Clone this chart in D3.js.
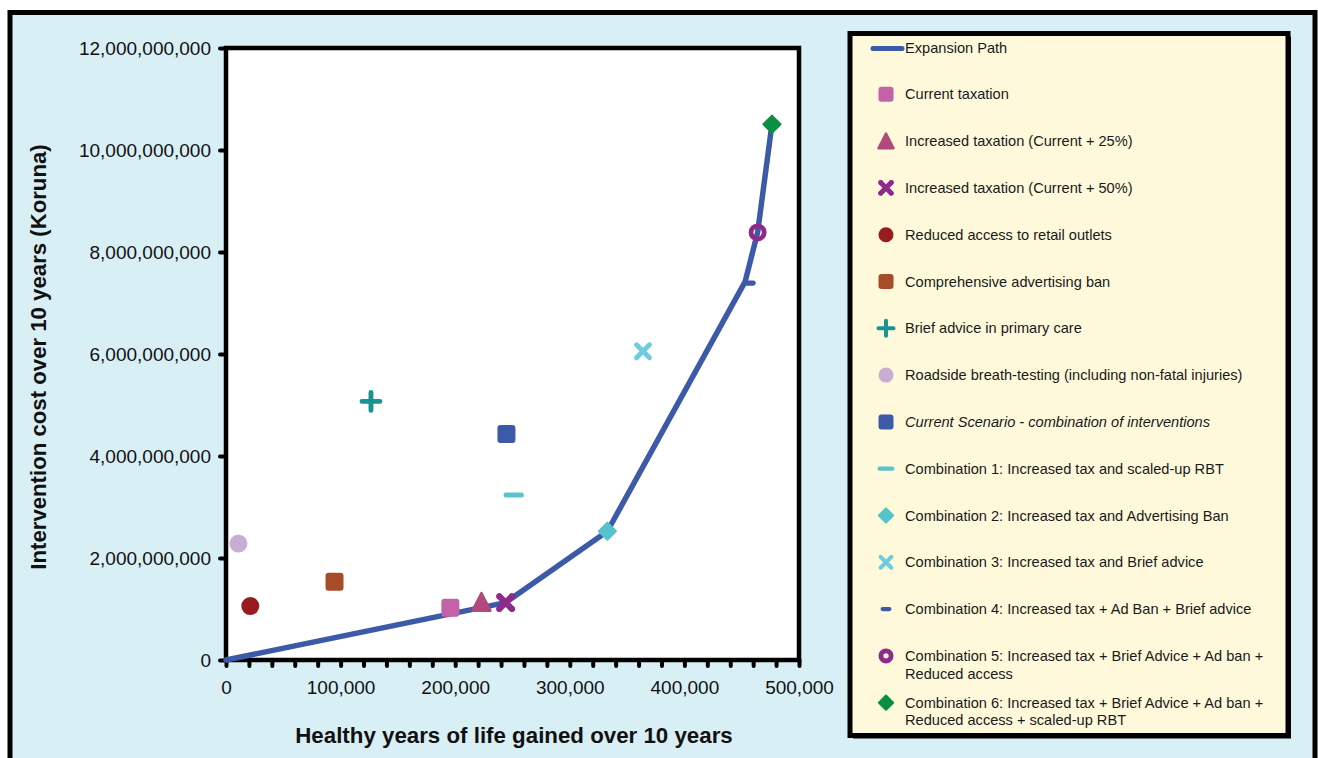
<!DOCTYPE html>
<html><head><meta charset="utf-8">
<script src="https://cdn.jsdelivr.net/npm/d3@7"></script>
<style>
body{margin:0;background:#fff;}
svg{display:block;font-family:"Liberation Sans",Arial,Helvetica,sans-serif;}
</style>
</head><body>
<svg id="chart" width="1318" height="758"></svg>
<script>
// ---------------- DATA ----------------
const seriesNames = [
  "Current taxation",
  "Increased taxation (Current + 25%)",
  "Increased taxation (Current + 50%)",
  "Reduced access to retail outlets",
  "Comprehensive advertising ban",
  "Brief advice in primary care",
  "Roadside breath-testing (including non-fatal injuries)",
  "Current Scenario - combination of interventions",
  "Combination 1: Increased tax and scaled-up RBT",
  "Combination 2: Increased tax and Advertising Ban",
  "Combination 3: Increased tax and Brief advice",
  "Combination 4: Increased tax + Ad Ban + Brief advice",
  "Combination 5: Increased tax + Brief Advice + Ad ban + Reduced access",
  "Combination 6: Increased tax + Brief Advice + Ad ban + Reduced access + scaled-up RBT"
];
const healthyYears = [195800, 222900, 244000, 21200, 94700, 126500, 10800, 244700, 251100, 332800, 363900, 456500, 463900, 476400];
const costs = [1.024e9, 1.135e9, 1.125e9, 1.057e9, 1.533e9, 5.07e9, 2.284e9, 4.43e9, 3.236e9, 2.525e9, 6.055e9, 7.39e9, 8.384e9, 10.506e9];
const seriesColors = ["#c462a8", "#b04a7c", "#8e2a8c", "#981b1f", "#a84b28", "#1a9393", "#c8aed4", "#3d5aa9", "#5bc3cb", "#56c3cb", "#6ccde0", "#3d5aa9", "#8e2a8c", "#0a9040"];
const seriesShapes = ["square", "triangle", "xbold", "circle", "square", "plus", "circle", "square", "dash", "diamond", "x", "smalldash", "ring", "diamond"];

const expansionName = "Expansion Path";
const expansionX = [0, 244000, 332800, 453000, 463900, 476400];
const expansionY = [0, 1.125e9, 2.525e9, 7.42e9, 8.384e9, 10.506e9];
const expansionColor = "#3d5aa9";

const xTickValues = [0, 100000, 200000, 300000, 400000, 500000];
const yTickValues = [0, 2e9, 4e9, 6e9, 8e9, 10e9, 12e9];
const xTitle = "Healthy years of life gained over 10 years";
const yTitle = "Intervention cost over 10 years (Koruna)";

// ---------------- LAYOUT ----------------
const svg = d3.select("#chart");
const plot = {left: 226, right: 799, top: 48, bottom: 660};

// outer frame
svg.append("rect").attr("x", 10).attr("y", 12.5).attr("width", 1305).attr("height", 800)
  .attr("fill", "#d9eff6").attr("stroke", "#000").attr("stroke-width", 5);

const x = d3.scaleLinear().domain([0, 500000]).range([plot.left, plot.right]);
const y = d3.scaleLinear().domain([0, 12e9]).range([plot.bottom, plot.top]);

// plot area
svg.append("rect").attr("x", plot.left).attr("y", plot.top)
  .attr("width", plot.right - plot.left).attr("height", plot.bottom - plot.top)
  .attr("fill", "#fff");

const fmt = d3.format(",");

// x axis (minor ticks every 20,000)
const xAxis = d3.axisBottom(x)
  .tickValues(d3.range(0, 500001, 20000))
  .tickSize(6).tickPadding(14.5)
  .tickFormat(d => xTickValues.includes(d) ? fmt(d) : "");
const gx = svg.append("g").attr("transform", `translate(0,${plot.bottom})`).call(xAxis);
gx.select(".domain").remove();
gx.selectAll(".tick line").attr("stroke", "#000").attr("stroke-width", 4).attr("stroke-linecap", "round");
gx.selectAll(".tick text").attr("font-size", 19).attr("fill", "#111");

// y axis
const yAxis = d3.axisLeft(y).tickValues(yTickValues).tickSize(6).tickPadding(9).tickFormat(d => fmt(d));
const gy = svg.append("g").attr("transform", `translate(${plot.left},0)`).call(yAxis);
gy.select(".domain").remove();
gy.selectAll(".tick line").attr("stroke", "#000").attr("stroke-width", 4).attr("stroke-linecap", "round");
gy.selectAll(".tick text").attr("font-size", 19).attr("fill", "#111");

// plot frame
svg.append("rect").attr("x", plot.left).attr("y", plot.top)
  .attr("width", plot.right - plot.left).attr("height", plot.bottom - plot.top)
  .attr("fill", "none").attr("stroke", "#000").attr("stroke-width", 4.5);

// titles
svg.append("text").attr("x", 514).attr("y", 743).attr("text-anchor", "middle")
  .attr("font-size", 22.3).attr("font-weight", "bold").attr("fill", "#111").text(xTitle);
svg.append("text").attr("transform", "translate(46,357) rotate(-90)").attr("text-anchor", "middle")
  .attr("font-size", 22.2).attr("font-weight", "bold").attr("fill", "#111").text(yTitle);

// expansion path
const line = d3.line().x(d => x(d[0])).y(d => y(d[1]));
svg.append("path").datum(d3.zip(expansionX, expansionY)).attr("d", line)
  .attr("fill", "none").attr("stroke", expansionColor).attr("stroke-width", 5.5)
  .attr("stroke-linejoin", "round").attr("stroke-linecap", "round");

// marker drawing
function drawMarker(g, shape, color, s) {
  const h = s / 2;
  if (shape === "square") {
    g.append("rect").attr("x", -h + 1).attr("y", -h + 1).attr("width", s - 2).attr("height", s - 2)
      .attr("rx", 2).attr("fill", color).attr("stroke", color).attr("stroke-width", 2).attr("stroke-linejoin", "round");
  } else if (shape === "triangle") {
    g.append("path").attr("d", `M0,${-h}L${h},${h * 0.95}L${-h},${h * 0.95}Z`)
      .attr("fill", color).attr("stroke", color).attr("stroke-width", 2.5).attr("stroke-linejoin", "round");
  } else if (shape === "circle") {
    g.append("circle").attr("r", h).attr("fill", color);
  } else if (shape === "ring") {
    g.append("circle").attr("r", h - 2.4).attr("fill", "none").attr("stroke", color).attr("stroke-width", 4.8);
  } else if (shape === "diamond") {
    const d = h * 0.95;
    g.append("path").attr("d", `M0,${-d}L${d},0L0,${d}L${-d},0Z`)
      .attr("fill", color).attr("stroke", color).attr("stroke-width", 2).attr("stroke-linejoin", "round");
  } else if (shape === "plus") {
    const a = h;
    g.append("path").attr("d", `M${-a},0L${a},0M0,${-a}L0,${a}`)
      .attr("stroke", color).attr("stroke-width", s * 0.27).attr("stroke-linecap", "round");
  } else if (shape === "x") {
    const a = h * 0.72;
    g.append("path").attr("d", `M${-a},${-a}L${a},${a}M${a},${-a}L${-a},${a}`)
      .attr("stroke", color).attr("stroke-width", s * 0.27).attr("stroke-linecap", "round");
  } else if (shape === "xbold") {
    const a = h * 0.68;
    g.append("path").attr("d", `M${-a},${-a}L${a},${a}M${a},${-a}L${-a},${a}`)
      .attr("stroke", color).attr("stroke-width", s * 0.34).attr("stroke-linecap", "round");
    const e = h * 0.72, w = s * 0.14;
    [[-1, -1], [1, -1], [-1, 1], [1, 1]].forEach(([sx, sy]) => {
      g.append("circle").attr("cx", sx * e).attr("cy", sy * e).attr("r", w * 1.15).attr("fill", color);
    });
  } else if (shape === "dash") {
    g.append("path").attr("d", `M${-h * 0.85},0L${h * 0.85},0`)
      .attr("stroke", color).attr("stroke-width", s * 0.28).attr("stroke-linecap", "round");
  } else if (shape === "smalldash") {
    g.append("path").attr("d", `M${-h * 0.45},0L${h * 0.45},0`)
      .attr("stroke", color).attr("stroke-width", s * 0.28).attr("stroke-linecap", "round");
  }
}

// data markers
const pts = seriesNames.map((n, i) => ({name: n, x: healthyYears[i], y: costs[i], color: seriesColors[i], shape: seriesShapes[i]}));
svg.append("g").selectAll("g").data(pts).join("g")
  .attr("transform", d => `translate(${x(d.x)},${y(d.y)})`)
  .each(function (d) { drawMarker(d3.select(this), d.shape, d.color, 18); });

// ---------------- LEGEND ----------------
svg.append("rect").attr("x", 853).attr("y", 36.5).attr("width", 438).attr("height", 702).attr("fill", "#000");
svg.append("rect").attr("x", 850).attr("y", 33.5).attr("width", 438).attr("height", 702)
  .attr("fill", "#fdf9da").attr("stroke", "#000").attr("stroke-width", 5);

const leg = svg.append("g").attr("font-size", 14.6).attr("fill", "#1a1a1a");
const rowY = i => 47.5 + 46.8 * i;
// expansion path entry
leg.append("line").attr("x1", 873).attr("x2", 902).attr("y1", rowY(0) + 1).attr("y2", rowY(0) + 1)
  .attr("stroke", expansionColor).attr("stroke-width", 5).attr("stroke-linecap", "round");
leg.append("text").attr("x", 905).attr("y", rowY(0)).attr("dy", "0.35em").text(expansionName);

pts.forEach((d, i) => {
  const cy = rowY(i + 1);
  const g = leg.append("g").attr("transform", `translate(886,${cy})`);
  drawMarker(g, d.shape, d.color, 15);
  const cut = d.name.indexOf("Ad ban + ");
  const parts = cut >= 0 ? [d.name.slice(0, cut + 8), d.name.slice(cut + 9)] : [d.name];
  const t = leg.append("text").attr("x", 905).attr("y", cy);
  if (d.name.startsWith("Current Scenario")) t.attr("font-style", "italic");
  parts.forEach((p, k) => t.append("tspan").attr("x", 905).attr("dy", k === 0 ? "0.35em" : "1.2em").text(p));
});
</script>
</body></html>
